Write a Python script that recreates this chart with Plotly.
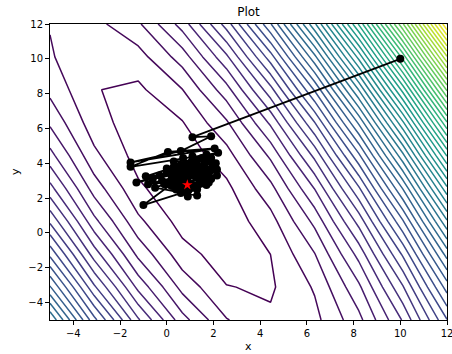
import numpy as np
import plotly.graph_objects as go

# Coarse grid of the contour surface (10 x 10 nodes, as in the reference)
grid_x = np.linspace(-5, 12, 10)
grid_y = np.linspace(-5, 12, 10)

# Contour crossings: x, y, contour index (0 = innermost)
cross_x = [-2.72, -1.22, -0.86, 0.67, 2.56, 4.30, 4.60, 4.44, 2.56, 0.67,
           2.64, 6.53, 1.78, 7.49, 0.92, 8.35, 8.99, 9.56, 10.06, 10.49, 10.92, 11.27, 11.63, 11.92,
           -5, -5, -5, -5, -5, -5, -5, -5,
           -2.5, -1.15]
cross_y = [8.22, 8.79, 8.22, 6.49, 3.20, -1.22, -3.11, -3.75, -2.93, -0.30,
           -5, -5, -5, -5, -5, -5, -5, -5, -5, -5, -5, -5, -5, -5,
           11.67, 7.78, 6.02, 4.90, 3.81, 2.86, 2.09, 1.32,
           12, 12]
cross_k = [0, 0, 0, 0, 0, 0, 0, 0, 0, 0,
           1, 1, 2, 2, 3, 3, 4, 5, 6, 7, 8, 9, 10, 11,
           1, 2, 3, 4, 5, 6, 7, 8,
           1, 2]

# Optimisation path
path_x = [10.0, 1.1, 1.9, 0.6, -1.55, 2.05, 0.05, -1.55, 2.2, 0.0, 1.5, -0.9, 2.15, 0.3,
          1.8, -1.3, 1.2, 0.6, 2.15, -0.3, 1.0, 0.2, 1.7, 0.9, -1.0, 1.7, 0.7, 1.6, 0.4,
          1.3, 0.5, 1.9, 0.1, 0.9, 1.4, 0.3, 1.9, 0.8, -0.5, 1.3, 1.1, 0.6, 1.5, -0.2,
          1.0, 0.7, 1.8, 0.4, 1.2, -0.6, 1.6, 0.2, 2.0, 0.9, 1.4, -0.1, 1.1, 0.5, 1.8,
          0.8, 1.3, 0.0, 1.7, 0.6, 2.1, 1.0, 0.3, 1.5, 0.7, 1.9, -0.8, 1.2, 0.4, 1.6,
          0.9, 2.0, 0.2, 1.4, 0.6, 1.1, 0.88]
path_y = [10.0, 5.5, 5.55, 4.7, 4.05, 4.85, 4.65, 3.8, 4.6, 3.5, 4.3, 3.25, 3.65, 3.0,
          4.1, 2.9, 3.6, 2.6, 3.3, 3.3, 4.0, 2.7, 3.2, 3.5, 1.6, 2.75, 3.0, 3.9, 3.4,
          2.5, 3.8, 3.6, 2.9, 2.1, 3.0, 4.1, 4.3, 3.2, 2.6, 2.15, 3.3, 2.3, 3.5, 3.0,
          2.8, 3.6, 2.9, 2.5, 3.9, 3.1, 4.2, 3.3, 3.9, 2.4, 3.7, 2.8, 4.4, 3.0, 3.4,
          3.9, 2.7, 3.7, 4.5, 2.9, 4.0, 3.4, 3.8, 2.9, 4.3, 3.1, 2.8, 3.5, 2.6, 4.1,
          3.2, 3.7, 3.5, 3.3, 3.9, 2.6, 2.76]

# Best point (red star)
best_x = [0.88]
best_y = [2.76]

# ---- fit a quadratic surface whose linearly interpolated grid reproduces the crossings
h = grid_x[1] - grid_x[0]


def phi(x, y):
    return np.array([x * x, x * y, y * y, x, y])


def edge_of(px, py):
    ix = int(np.argmin(np.abs(grid_x - px)))
    iy = int(np.argmin(np.abs(grid_y - py)))
    if abs(grid_x[ix] - px) <= abs(grid_y[iy] - py):
        x = grid_x[ix]
        j = min(max(int(np.floor((py - grid_y[0]) / h)), 0), len(grid_y) - 2)
        t = (py - grid_y[j]) / h
        return (x, grid_y[j]), (x, grid_y[j + 1]), t
    y = grid_y[iy]
    j = min(max(int(np.floor((px - grid_x[0]) / h)), 0), len(grid_x) - 2)
    t = (px - grid_x[j]) / h
    return (grid_x[j], y), (grid_x[j + 1], y), t


rows, rhs = [], []
for px, py, k in zip(cross_x, cross_y, cross_k):
    p, q, t = edge_of(px, py)
    feat = (1 - t) * phi(*p) + t * phi(*q)
    rows.append(np.append(feat, -1.0))
    rhs.append(float(k))
sol, *_ = np.linalg.lstsq(np.array(rows), np.array(rhs), rcond=None)
coef, level0 = sol[:5], sol[5]

X, Y = np.meshgrid(grid_x, grid_y)
Z = coef[0] * X**2 + coef[1] * X * Y + coef[2] * Y**2 + coef[3] * X + coef[4] * Y
top_level = level0 + np.floor(Z.max() - level0)

fig = go.Figure()
fig.add_trace(go.Contour(
    x=grid_x, y=grid_y, z=Z,
    contours=dict(start=level0, end=top_level, size=1.0, coloring="lines"),
    colorscale="Viridis", zmin=level0, zmax=top_level,
    line=dict(width=1.5, smoothing=0),
    showscale=False, hoverinfo="skip",
))
fig.add_trace(go.Scatter(
    x=path_x, y=path_y, mode="lines+markers",
    line=dict(color="black", width=1.8),
    marker=dict(color="black", size=8),
    showlegend=False,
))
fig.add_trace(go.Scatter(
    x=best_x, y=best_y, mode="markers",
    marker=dict(color="red", symbol="star", size=8),
    showlegend=False,
))

axis_common = dict(
    range=[-5, 12], tick0=-4, dtick=2, ticks="outside", ticklen=4, tickwidth=1,
    tickcolor="black", showline=True, linecolor="black", linewidth=1, mirror=True,
    showgrid=False, zeroline=False, tickfont=dict(size=10, color="black"),
    automargin=False, ticklabeloverflow="allow",
)
fig.update_xaxes(**axis_common)
fig.update_yaxes(**axis_common)

fig.update_layout(
    width=452, height=354,
    margin=dict(l=50, r=5, t=24, b=34),
    paper_bgcolor="white", plot_bgcolor="white",
    font=dict(family="DejaVu Sans", color="black"),
    title=dict(text="Plot", x=0.5, xref="paper", y=1 - 12 / 354, yref="container",
               xanchor="center", yanchor="middle", font=dict(size=12)),
    annotations=[
        dict(text="x", x=0.5, y=-0.088, xref="paper", yref="paper", showarrow=False,
             xanchor="center", yanchor="middle", font=dict(size=11)),
        dict(text="y", x=-0.088, y=0.5, xref="paper", yref="paper", showarrow=False,
             textangle=-90, xanchor="center", yanchor="middle", font=dict(size=11)),
    ],
)

fig.write_html("out.html", config={"displayModeBar": False},
               post_script="document.body.style.margin='0px';")
